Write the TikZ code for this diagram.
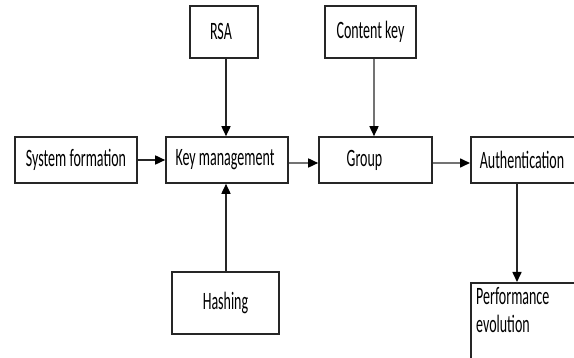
\documentclass[tikz,border=0pt]{standalone}
\usepackage{fontspec}
\setmainfont{Carlito}
\usepackage{graphicx}
\usetikzlibrary{arrows.meta}
\newcommand{\sq}[1]{\scalebox{0.56}[1]{#1}}
\begin{document}
\begin{tikzpicture}[x=1pt,y=-1pt,
  box/.style={draw=black!85, line width=1.6pt, inner sep=0pt, fill=white,
    font=\fontsize{25}{30}\selectfont, text=black},
  txt/.style={inner sep=0pt, font=\fontsize{25}{30}\selectfont, text=black},
  arr/.style={line width=1.6pt, draw=black!85, -{Triangle[length=10pt,width=9pt,color=black]}},
  garr/.style={arr, draw=black!55}]
\useasboundingbox (0,0) rectangle (574,358);
\clip (0,0) rectangle (574,358);
\fill[white] (0,0) rectangle (574,358);

\node[box, minimum width=122pt, minimum height=46pt] (sys) at (76,160) {\sq{System formation}};
\node[box, minimum width=122pt, minimum height=46pt] (km) at (227,160) {\sq{Key management}\hspace*{4pt}};
\node[box, minimum width=68pt, minimum height=52pt] (rsa) at (224,32) {\raisebox{2pt}{\sq{RSA}}\hspace*{6pt}};
\node[box, minimum width=91pt, minimum height=52pt] (ck) at (370.5,32) {\sq{Content key}};
\node[box, minimum width=113pt, minimum height=46pt] (grp) at (375.5,160) {\sq{Group}\hspace*{22pt}};
\node[box, minimum width=107pt, minimum height=62pt] (hash) at (225.5,303) {\raisebox{5pt}{\sq{Hashing}}};
\node[box, anchor=west, minimum height=46pt, text width=140pt, inner xsep=9pt, align=left] (auth) at (470,160) {\sq{Authentication}};
\node[box, anchor=north west, minimum width=150pt, minimum height=110pt] (perf) at (470,282) {};
\node[txt, anchor=base west] (perf1) at (476,305) {\sq{Performance}};
\node[txt, anchor=base west] (perf2) at (476,333) {\sq{evolution}};

\draw[arr] (sys.east) -- (km.west);
\draw[garr] (km.east |- 0,163) -- (grp.west |- 0,163);
\draw[garr] (grp.east |- 0,163) -- (auth.west |- 0,163);
\draw[arr] (rsa.south -| 226,0) -- (km.north -| 226,0);
\draw[garr] (ck.south -| 374,0) -- (grp.north -| 374,0);
\draw[arr] (hash.north -| 226,0) -- (km.south -| 226,0);
\draw[arr] (auth.south -| 517,0) -- (perf.north -| 517,0);
\end{tikzpicture}
\end{document}
